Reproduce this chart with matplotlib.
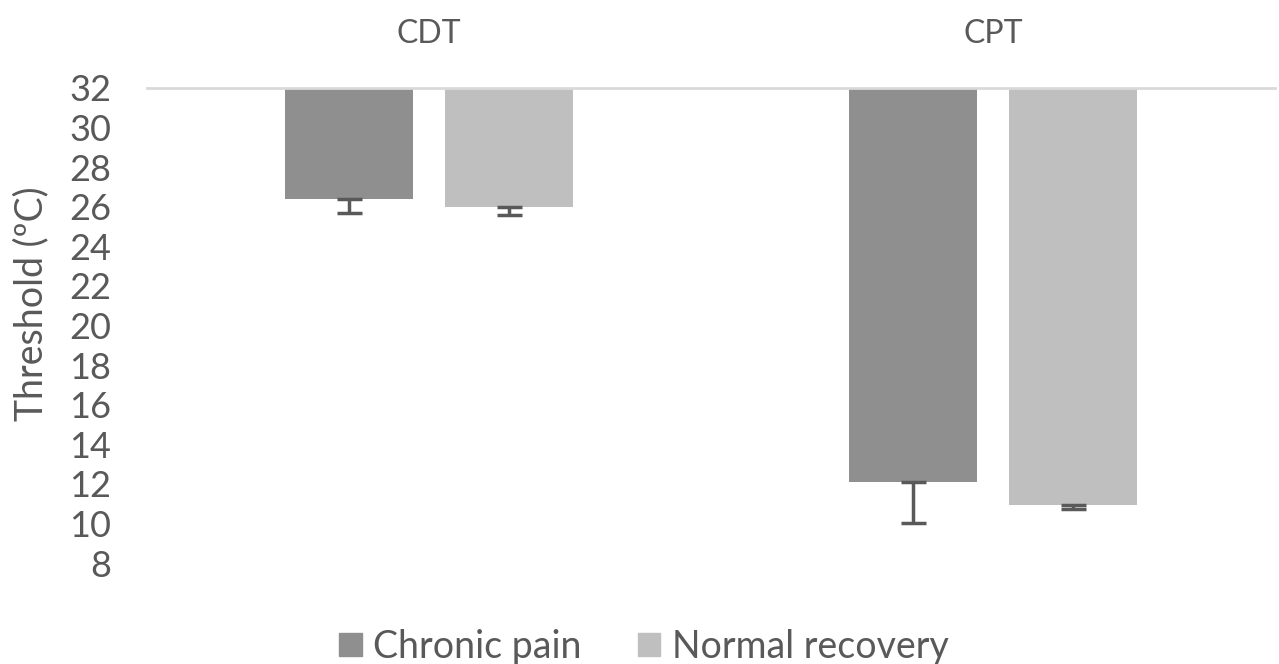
import matplotlib.pyplot as plt
from matplotlib.patches import Patch
import numpy as np

plt.rcParams['font.family'] = ['Lato', 'DejaVu Sans']

# data (bars hang down from 32)
tests = ['CDT', 'CPT']
series = ['Chronic pain', 'Normal recovery']
chronic = [26.4, 12.1]
normal = [26.0, 10.95]
chronic_err = [0.7, 2.1]
normal_err = [0.4, 0.2]
yticks = list(range(8, 33, 2))

base = 32
colors = ['#8f8f8f', '#bfbfbf']
txt = '#595959'

fig = plt.figure(figsize=(12.79, 6.64), dpi=100)
ax = fig.add_axes([0.115, 0.152, 0.882, 0.7155])

x = np.arange(len(tests))
w = 0.227
off = 0.142
for vals, errs, dx, col in [(chronic, chronic_err, -off, colors[0]),
                            (normal, normal_err, off, colors[1])]:
    vals = np.array(vals)
    ax.bar(x + dx, vals - base, bottom=base, width=w, color=col, zorder=2)
    # error bars only in the minus direction
    ax.errorbar(x + dx, vals, yerr=[errs, np.zeros(len(errs))], fmt='none',
                ecolor=txt, elinewidth=2.5, capsize=9, capthick=2.5, zorder=3)

ax.set_xlim(-0.5, 1.5)
ax.set_ylim(8, 32)
ax.set_yticks(yticks)
ax.set_yticklabels([str(t) for t in yticks], fontsize=26, color=txt)
ax.tick_params(axis='y', length=0, pad=26)

ax.xaxis.tick_top()
ax.set_xticks(x)
ax.set_xticklabels(tests, fontsize=23, color=txt)
ax.tick_params(axis='x', length=0, pad=28)

for s in ['left', 'right', 'bottom']:
    ax.spines[s].set_visible(False)
ax.spines['top'].set_color('#d9d9d9')
ax.spines['top'].set_linewidth(2)

ax.set_ylabel('Threshold (\u00baC)', fontsize=27, color=txt, labelpad=14, y=0.545)

handles = [Patch(color=c) for c in colors]
fig.legend(handles, series, loc='center', bbox_to_anchor=(0.5035, 0.026), ncol=2,
           frameon=False, fontsize=27, handlelength=0.6, handleheight=0.6,
           handletextpad=0.3, columnspacing=1.5, labelcolor=txt,
           borderpad=0, borderaxespad=0)

fig.savefig('out.png', dpi=100)
